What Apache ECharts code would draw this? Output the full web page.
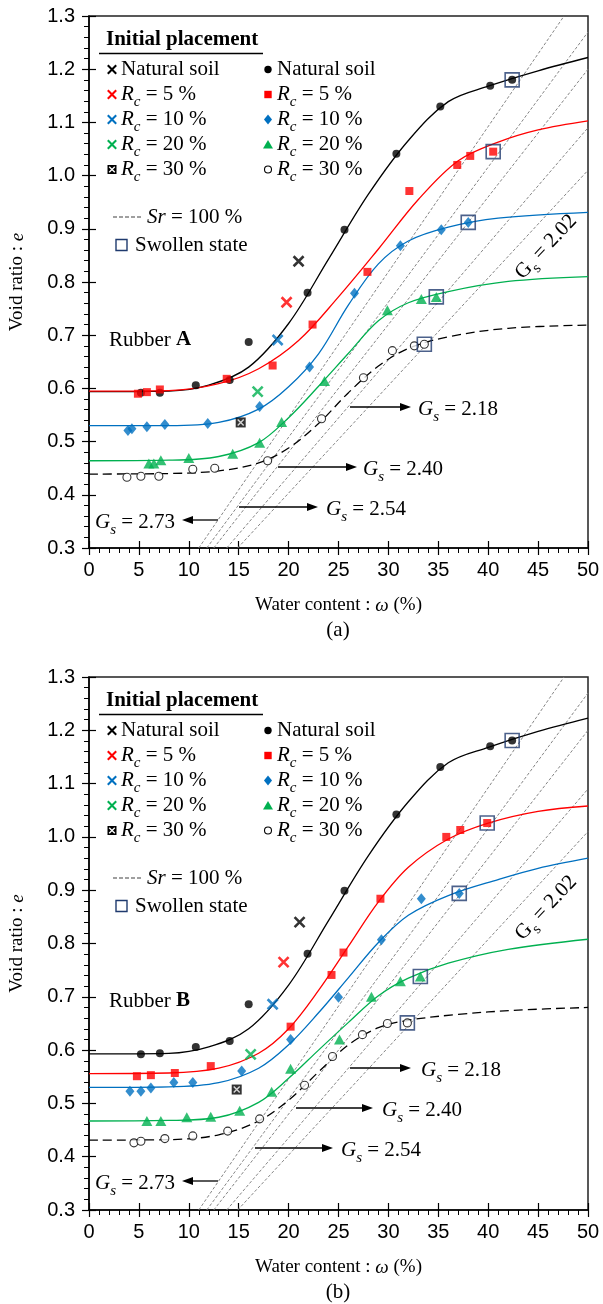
<!DOCTYPE html>
<html>
<head>
<meta charset="utf-8">
<script src="https://cdn.jsdelivr.net/npm/echarts@6/dist/echarts.min.js"></script>
<style>
  html, body { margin: 0; padding: 0; background: #fff; }
  #main { width: 603px; height: 1304px; }
</style>
</head>
<body>
<div id="main"></div>
<script>
// 字体
var SERIF = '"Liberation Serif", "Times New Roman", serif';
var SANS = '"Liberation Sans", Arial, sans-serif';

// 颜色: 天然土, Rc=5%, 10%, 20%, 30%
var COLORS = ['#000000', '#ff0000', '#0070c0', '#00b050', '#000000'];
var SWELL_COLOR = '#1f3a6e';

// Sr = 100 % 线 (Gs 值, 端点读自图)
var GS_LABELS = ['2.73', '2.54', '2.40', '2.18', '2.02'];
var SAT_LINES = [
  [[11.0, 0.3], [47.6, 1.3]],
  [[11.8, 0.3], [50, 1.27]],
  [[12.5, 0.3], [50, 1.20]],
  [[13.8, 0.3], [50, 1.09]],
  [[14.9, 0.3], [50, 1.01]]
];

// ---------- Rubber A ----------
var initA = [[21.0, 0.839], [19.8, 0.762], [18.9, 0.691], [16.9, 0.594], [15.2, 0.536]];
var datA_nat = [[5.2,0.592],[7.1,0.592],[10.7,0.606],[14.1,0.616],[16.0,0.687],[21.9,0.780],[25.6,0.898],[30.8,1.041],[35.2,1.130],[40.2,1.169],[42.4,1.180]];
var datA_5 = [[4.9,0.590],[5.8,0.593],[7.1,0.598],[13.8,0.618],[18.4,0.643],[22.4,0.720],[27.9,0.819],[32.1,0.971],[36.9,1.020],[38.2,1.037],[40.5,1.045]];
var datA_10 = [[3.9,0.521],[4.3,0.524],[5.8,0.528],[7.6,0.532],[11.9,0.534],[17.1,0.566],[22.1,0.640],[26.6,0.779],[31.2,0.868],[35.3,0.898],[38.0,0.912]];
var datA_20 = [[6.0,0.459],[6.5,0.459],[7.2,0.465],[10.0,0.469],[14.4,0.477],[17.1,0.498],[19.3,0.537],[23.6,0.614],[29.9,0.747],[33.3,0.768],[34.8,0.772]];
var datA_30 = [[3.8,0.433],[5.2,0.435],[7.0,0.435],[10.4,0.448],[12.6,0.450],[17.9,0.464],[23.3,0.543],[27.5,0.620],[30.4,0.671],[32.6,0.680],[33.6,0.683]];
var swellA = [[42.4,1.180],[40.5,1.045],[38.0,0.912],[34.8,0.772],[33.6,0.683]];
var fitA_nat = [[0,0.594],[8,0.595],[12,0.606],[16,0.640],[20,0.722],[24,0.843],[28,0.965],[32,1.066],[36,1.139],[40,1.168],[45,1.197],[50,1.222]];
var fitA_5 = [[0,0.595],[8,0.596],[13,0.609],[17,0.637],[21,0.690],[25,0.772],[29,0.862],[33,0.955],[37,1.028],[41,1.063],[45,1.086],[50,1.103]];
var fitA_10 = [[0,0.530],[8,0.530],[13,0.536],[17,0.561],[20,0.603],[23,0.665],[26,0.757],[29,0.834],[32,0.877],[36,0.903],[41,0.920],[50,0.931]];
var fitA_20 = [[0,0.464],[8,0.465],[13,0.472],[17,0.498],[20,0.545],[23,0.604],[26,0.666],[29,0.727],[32,0.761],[36,0.782],[42,0.801],[50,0.810]];
var fitA_30 = [[0,0.439],[8,0.440],[13,0.445],[17,0.460],[20,0.488],[23,0.534],[26,0.592],[29,0.642],[32,0.675],[36,0.697],[42,0.713],[50,0.719]];

// ---------- Rubber B ----------
var initB = [[21.1, 0.840], [19.5, 0.765], [18.4, 0.686], [16.2, 0.592], [14.8, 0.526]];
var datB_nat = [[5.2,0.592],[7.1,0.594],[10.7,0.606],[14.1,0.617],[16.0,0.686],[21.9,0.781],[25.6,0.899],[30.8,1.042],[35.2,1.131],[40.2,1.170],[42.4,1.181]];
var datB_5 = [[4.8,0.551],[6.2,0.553],[8.6,0.557],[12.2,0.570],[20.2,0.644],[24.3,0.741],[25.5,0.783],[29.2,0.884],[35.8,1.000],[37.2,1.013],[39.9,1.026]];
var datB_10 = [[4.1,0.523],[5.2,0.523],[6.2,0.529],[8.5,0.539],[10.4,0.539],[15.3,0.561],[20.2,0.620],[25.0,0.699],[29.3,0.807],[33.3,0.884],[37.1,0.894]];
var datB_20 = [[5.8,0.467],[7.2,0.467],[9.8,0.474],[12.2,0.475],[15.1,0.486],[18.3,0.522],[20.2,0.565],[25.1,0.620],[28.3,0.700],[31.2,0.729],[33.2,0.738]];
var datB_30 = [[4.5,0.426],[5.2,0.429],[7.6,0.434],[10.4,0.439],[13.9,0.448],[17.1,0.471],[21.6,0.534],[24.4,0.588],[27.4,0.629],[29.9,0.650],[31.9,0.651]];
var swellB = [[42.4,1.181],[39.9,1.026],[37.1,0.894],[33.2,0.738],[31.9,0.651]];
var fitB_nat = [[0,0.593],[8,0.594],[12,0.606],[16,0.640],[20,0.722],[24,0.843],[28,0.965],[32,1.066],[36,1.139],[40,1.168],[45,1.198],[50,1.223]];
var fitB_5 = [[0,0.556],[8,0.557],[13,0.566],[17,0.594],[20,0.640],[23,0.712],[26,0.795],[29,0.878],[32,0.943],[36,0.996],[40,1.026],[45,1.048],[50,1.058]];
var fitB_10 = [[0,0.530],[8,0.531],[13,0.539],[17,0.566],[20,0.610],[23,0.670],[26,0.736],[29,0.802],[32,0.853],[36,0.890],[41,0.920],[45,0.941],[50,0.960]];
var fitB_20 = [[0,0.467],[8,0.468],[13,0.474],[17,0.502],[20,0.547],[23,0.600],[26,0.652],[29,0.702],[32,0.735],[36,0.763],[42,0.789],[50,0.808]];
var fitB_30 = [[0,0.431],[8,0.432],[13,0.441],[17,0.467],[20,0.506],[23,0.559],[26,0.610],[29,0.642],[32,0.656],[37,0.667],[43,0.675],[50,0.680]];

var myChart = echarts.init(document.getElementById('main'));

var CROSS = 'path://M0,0L10,10M10,0L0,10';

function xAxes(gi) {
  var base = { type: 'value', gridIndex: gi, min: 0, max: 50, interval: 5, position: 'bottom', splitLine: { show: false } };
  var main = Object.assign({}, base, {
    axisLine: { show: true, onZero: false, lineStyle: { color: '#000', width: 1.5 } },
    axisTick: { show: true, inside: false, length: 7, lineStyle: { color: '#000', width: 1.2 } },
    minorTick: { show: true, splitNumber: 5, length: 5, lineStyle: { color: '#000', width: 1 } },
    axisLabel: { fontFamily: SANS, fontSize: 20, color: '#000', margin: 12 },
    name: 'Water content : {i|ω} (%)',
    nameLocation: 'middle',
    nameGap: 48,
    nameTextStyle: {
      fontFamily: SERIF, fontSize: 19, color: '#000',
      rich: { i: { fontFamily: SERIF, fontSize: 19, fontStyle: 'italic', color: '#000' } }
    }
  });
  var inner = Object.assign({}, base, {
    axisLine: { show: false },
    axisTick: { show: true, inside: true, length: 7, lineStyle: { color: '#000', width: 1.2 } },
    axisLabel: { show: false }
  });
  return [main, inner];
}

function yAxes(gi) {
  var base = { type: 'value', gridIndex: gi, min: 0.3, max: 1.3, interval: 0.1, position: 'left', splitLine: { show: false } };
  var main = Object.assign({}, base, {
    axisLine: { show: true, onZero: false, lineStyle: { color: '#000', width: 1.5 } },
    axisTick: { show: true, inside: false, length: 7, lineStyle: { color: '#000', width: 1.2 } },
    minorTick: { show: true, splitNumber: 5, length: 5, lineStyle: { color: '#000', width: 1 } },
    axisLabel: { fontFamily: SANS, fontSize: 20, color: '#000', margin: 14, formatter: function (v) { return v.toFixed(1); } },
    name: 'Void ratio : {i|e}',
    nameLocation: 'middle',
    nameGap: 62,
    nameRotate: 90,
    nameTextStyle: {
      fontFamily: SERIF, fontSize: 19, color: '#000',
      rich: { i: { fontFamily: SERIF, fontSize: 19, fontStyle: 'italic', color: '#000' } }
    }
  });
  var inner = Object.assign({}, base, {
    axisLine: { show: false },
    axisTick: { show: true, inside: true, length: 7, lineStyle: { color: '#000', width: 1.2 } },
    axisLabel: { show: false }
  });
  return [main, inner];
}

function panelSeries(gi, fits, dats, inits, swell) {
  var ax = gi * 2;
  var list = [];
  // Sr = 100 % 线
  SAT_LINES.forEach(function (seg) {
    list.push({
      type: 'line', xAxisIndex: ax, yAxisIndex: ax, data: seg, symbol: 'none', silent: true, z: 1,
      lineStyle: { color: '#858585', width: 1, type: [3, 2] }
    });
  });
  // 拟合曲线
  fits.forEach(function (d, k) {
    list.push({
      type: 'line', xAxisIndex: ax, yAxisIndex: ax, data: d, symbol: 'none', silent: true, z: 2,
      smooth: 0.35,
      lineStyle: { color: COLORS[k], width: 1.3, type: k === 4 ? [9, 5] : 'solid' }
    });
  });
  // 实测点
  var syms = [
    { symbol: 'circle', size: 8, color: '#000', border: '#000', bw: 0 },
    { symbol: 'rect', size: 8, color: '#ff0000', border: '#ff0000', bw: 0 },
    { symbol: 'diamond', size: [9, 11], color: '#0070c0', border: '#0070c0', bw: 0 },
    { symbol: 'triangle', size: [11, 10], color: '#00b050', border: '#00b050', bw: 0 },
    { symbol: 'circle', size: 8, color: '#fff', border: '#000', bw: 1.1 }
  ];
  dats.forEach(function (d, k) {
    var s = syms[k];
    list.push({
      type: 'scatter', xAxisIndex: ax, yAxisIndex: ax, data: d, symbol: s.symbol, symbolSize: s.size, z: 4,
      itemStyle: { color: s.color, borderColor: s.border, borderWidth: s.bw }
    });
  });
  // 初始状态 (×)
  inits.forEach(function (p, k) {
    if (k === 4) {
      list.push({
        type: 'scatter', xAxisIndex: ax, yAxisIndex: ax, data: [p], symbol: 'rect', symbolSize: 10, z: 4,
        itemStyle: { color: '#000' }
      });
      list.push({
        type: 'scatter', xAxisIndex: ax, yAxisIndex: ax, data: [p], symbol: CROSS, symbolSize: 6, z: 5,
        itemStyle: { color: '#fff', borderColor: '#fff', borderWidth: 1.4 }
      });
    } else {
      list.push({
        type: 'scatter', xAxisIndex: ax, yAxisIndex: ax, data: [p], symbol: CROSS, symbolSize: 10, z: 4,
        itemStyle: { color: COLORS[k], borderColor: COLORS[k], borderWidth: 2.6 }
      });
    }
  });
  // 膨胀状态
  list.push({
    type: 'scatter', xAxisIndex: ax, yAxisIndex: ax, data: swell, symbol: 'rect', symbolSize: 14, z: 6,
    itemStyle: { color: 'rgba(0,0,0,0)', borderColor: SWELL_COLOR, borderWidth: 1.6 }
  });
  return list;
}

// 图形文字
function rich(size) {
  return {
    n: { fontFamily: SERIF, fontSize: size, fill: '#000', lineHeight: 24 },
    i: { fontFamily: SERIF, fontSize: size, fontStyle: 'italic', fill: '#000', lineHeight: 24 },
    b: { fontFamily: SERIF, fontSize: size, fontWeight: 'bold', fill: '#000', lineHeight: 24 },
    s: { fontFamily: SERIF, fontSize: 15, fontStyle: 'italic', fill: '#000', verticalAlign: 'bottom', lineHeight: 31 },
    u: { fontFamily: SERIF, fontSize: 15, fill: '#000', verticalAlign: 'bottom', lineHeight: 31 }
  };
}
function txt(x, y, text, extra) {
  var el = {
    type: 'text', x: x, y: y, z: 100,
    style: { text: text, fontFamily: SERIF, fontSize: 21, fill: '#000', align: 'left', verticalAlign: 'middle', rich: rich(21) }
  };
  return Object.assign(el, extra || {});
}
function ctxt(x, y, text, rot) {
  return {
    type: 'text', x: x, y: y, z: 100, rotation: rot || 0,
    style: { text: text, fontFamily: SERIF, fontSize: 21, fill: '#000', align: 'center', verticalAlign: 'middle', rich: rich(21) }
  };
}
function hline(x1, x2, y, color, w, dash) {
  return { type: 'line', z: 100, shape: { x1: x1, y1: y, x2: x2, y2: y }, style: { stroke: color, lineWidth: w, lineDash: dash || null } };
}
function cross(x, y, r, color, w) {
  return [
    { type: 'line', z: 101, shape: { x1: x - r, y1: y - r, x2: x + r, y2: y + r }, style: { stroke: color, lineWidth: w } },
    { type: 'line', z: 101, shape: { x1: x + r, y1: y - r, x2: x - r, y2: y + r }, style: { stroke: color, lineWidth: w } }
  ];
}
function arrow(x1, x2, y) {
  var dir = x2 > x1 ? 1 : -1;
  return [
    hline(x1, x2 - dir * 8, y, '#000', 1.3),
    { type: 'polygon', z: 100, shape: { points: [[x2, y], [x2 - dir * 11, y - 4], [x2 - dir * 11, y + 4]] }, style: { fill: '#000' } }
  ];
}

function legendGraphics(dy, letter) {
  var g = [];
  g.push(txt(106, 40 + dy, '{b|Initial placement}'));
  g.push(hline(99, 263, 53.5 + dy, '#000', 1.5));
  var labels = ['{n|Natural soil}', '{i|R}{s|c}{n| = 5 %}', '{i|R}{s|c}{n| = 10 %}', '{i|R}{s|c}{n| = 20 %}', '{i|R}{s|c}{n| = 30 %}'];
  for (var k = 0; k < 5; k++) {
    var y = 69.5 + 25 * k + dy;
    // 左列 ×
    if (k === 4) {
      g.push({ type: 'rect', z: 100, shape: { x: 107.5, y: y - 4.5, width: 9, height: 9 }, style: { fill: '#000' } });
      g = g.concat(cross(112, y, 2.8, '#fff', 1.3));
    } else {
      g = g.concat(cross(112, y, 4.2, COLORS[k], 2));
    }
    g.push(txt(121, y, labels[k]));
    // 右列
    var mx = 268;
    if (k === 0) g.push({ type: 'circle', z: 100, shape: { cx: mx, cy: y, r: 3.7 }, style: { fill: '#000' } });
    if (k === 1) g.push({ type: 'rect', z: 100, shape: { x: mx - 3.7, y: y - 3.7, width: 7.4, height: 7.4 }, style: { fill: '#ff0000' } });
    if (k === 2) g.push({ type: 'polygon', z: 100, shape: { points: [[mx, y - 5], [mx + 4, y], [mx, y + 5], [mx - 4, y]] }, style: { fill: '#0070c0' } });
    if (k === 3) g.push({ type: 'polygon', z: 100, shape: { points: [[mx, y - 4.5], [mx + 5, y + 4], [mx - 5, y + 4]] }, style: { fill: '#00b050' } });
    if (k === 4) g.push({ type: 'circle', z: 100, shape: { cx: mx, cy: y, r: 3.5 }, style: { fill: '#fff', stroke: '#000', lineWidth: 1.1 } });
    g.push(txt(277, y, labels[k]));
  }
  g.push(hline(113, 141, 217 + dy, '#808080', 1.5, [4, 2]));
  g.push(txt(147, 217 + dy, '{i|Sr}{n| = 100 %}'));
  g.push({ type: 'rect', z: 100, shape: { x: 116, y: 239.5 + dy, width: 11, height: 11 }, style: { fill: 'none', stroke: SWELL_COLOR, lineWidth: 1.4 } });
  g.push(txt(135, 245 + dy, '{n|Swollen state}'));
  g.push(txt(109, 340 + dy, '{n|Rubber }{b|' + letter + '}'));
  return g;
}

function gsGraphics(dy, pos) {
  var g = [];
  // pos: [箭头起点 x, 箭头终点 x, 文字 x, y]
  for (var k = 1; k < 4; k++) {
    var p = pos[k];
    g = g.concat(arrow(p[0], p[1], p[3] + dy));
    g.push(txt(p[2], p[3] + 2 + dy, '{i|G}{s|s}{n| = ' + GS_LABELS[k] + '}'));
  }
  g.push(txt(95, 522 + dy, '{i|G}{s|s}{n| = ' + GS_LABELS[0] + '}'));
  g = g.concat(arrow(218, 182, 520 + dy));
  g.push(ctxt(546, 247 + dy, '{n|G}{u|s}{n| = ' + GS_LABELS[4] + '}', 47 * Math.PI / 180));
  return g;
}

var gsPosA = [null, [239, 318, 326, 507], [278, 357, 363, 467], [350, 411, 418, 407]];
var gsPosB = [null, [255, 333, 341, 1148 - 661], [296, 373, 382, 1108 - 661], [350, 411, 421, 1068 - 661]];

var graphics = []
  .concat(legendGraphics(0, 'A'))
  .concat(legendGraphics(661, 'B'))
  .concat(gsGraphics(0, gsPosA))
  .concat(gsGraphics(661, gsPosB));
graphics.push(ctxt(338, 630, '{n|(a)}'));
graphics.push(ctxt(338, 1292, '{n|(b)}'));

var option = {
  animation: false,
  backgroundColor: '#fff',
  grid: [
    { left: 88, top: 16, width: 500, height: 532, show: true, borderColor: '#222', borderWidth: 1.5 },
    { left: 88, top: 677, width: 500, height: 533, show: true, borderColor: '#222', borderWidth: 1.5 }
  ],
  xAxis: xAxes(0).concat(xAxes(1)),
  yAxis: yAxes(0).concat(yAxes(1)),
  series: panelSeries(0, [fitA_nat, fitA_5, fitA_10, fitA_20, fitA_30], [datA_nat, datA_5, datA_10, datA_20, datA_30], initA, swellA)
    .concat(panelSeries(1, [fitB_nat, fitB_5, fitB_10, fitB_20, fitB_30], [datB_nat, datB_5, datB_10, datB_20, datB_30], initB, swellB)),
  graphic: graphics
};
myChart.setOption(option);
</script>
</body>
</html>
